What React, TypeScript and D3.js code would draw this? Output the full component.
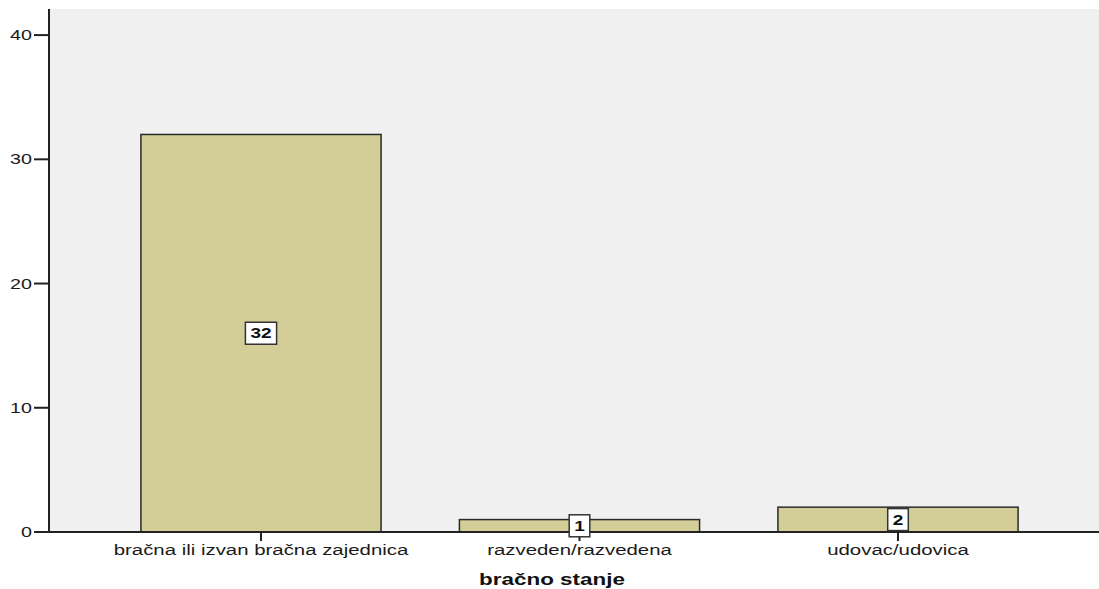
import React, { useEffect, useRef } from "react";
import * as d3 from "d3";

const categories = ["bračna ili izvan bračna zajednica", "razveden/razvedena", "udovac/udovica"];
const counts = [32, 1, 2];
const yTicks = [0, 10, 20, 30, 40];
const xTitle = "bračno stanje";

const W = 1099;
const H = 589;
const SX = 1.36; // horizontal stretch of the original rendering
const FONT = "Liberation Sans, Arial, sans-serif";

export default function App() {
  const ref = useRef<SVGSVGElement | null>(null);

  useEffect(() => {
    const svg = d3.select(ref.current);
    svg.selectAll("*").remove();

    const left = 49, right = 1099, top = 9, bottom = 532;
    const y = d3.scaleLinear().domain([0, 42.1]).range([bottom, top]);
    const x = d3
      .scaleBand<string>()
      .domain(categories)
      .range([101.75, 1057.25])
      .paddingInner(0.246)
      .paddingOuter(0.123);

    const addText = (
      px: number,
      py: number,
      str: string,
      size: number,
      anchor: string,
      bold = false,
      fill = "#1a1a1a"
    ) =>
      svg
        .append("text")
        .attr("transform", `translate(${px},${py}) scale(${SX},1)`)
        .attr("text-anchor", anchor)
        .attr("font-family", FONT)
        .attr("font-size", size)
        .attr("font-weight", bold ? "bold" : "normal")
        .attr("fill", fill)
        .text(str);

    svg.append("rect").attr("x", 0).attr("y", 0).attr("width", W).attr("height", H).attr("fill", "#ffffff");
    svg.append("rect").attr("x", left).attr("y", top).attr("width", right - left).attr("height", bottom - top).attr("fill", "#f0f0f0");

    // bars
    svg
      .selectAll("rect.bar")
      .data(counts)
      .enter()
      .append("rect")
      .attr("class", "bar")
      .attr("x", (_d, i) => x(categories[i])!)
      .attr("y", (d) => y(d))
      .attr("width", x.bandwidth())
      .attr("height", (d) => bottom - y(d))
      .attr("fill", "#d3ce98")
      .attr("stroke", "#2a2a2a")
      .attr("stroke-width", 1.5);

    // axes lines
    svg.append("line").attr("x1", left).attr("x2", left).attr("y1", top).attr("y2", bottom + 1).attr("stroke", "#222").attr("stroke-width", 2);
    svg.append("line").attr("x1", left).attr("x2", right).attr("y1", bottom).attr("y2", bottom).attr("stroke", "#222").attr("stroke-width", 2);

    // y ticks
    yTicks.forEach((t) => {
      svg.append("line").attr("x1", 34).attr("x2", left).attr("y1", y(t)).attr("y2", y(t)).attr("stroke", "#222").attr("stroke-width", 2);
      addText(32, y(t) + 5, String(t), 14.5, "end");
    });

    // x ticks and labels
    categories.forEach((c) => {
      const cx = x(c)! + x.bandwidth() / 2;
      svg.append("line").attr("x1", cx).attr("x2", cx).attr("y1", bottom).attr("y2", bottom + 9).attr("stroke", "#222").attr("stroke-width", 2);
      addText(cx, 555, c, 15, "middle");
    });

    // value labels
    counts.forEach((v, i) => {
      const cx = x(categories[i])! + x.bandwidth() / 2;
      const cy = y(v / 2);
      const g = svg.append("g");
      const rect = g.append("rect");
      const t = addText(cx, cy + 5, String(v), 14, "middle", true, "#111");
      g.node()!.appendChild(t.node()!);
      const bb = (t.node() as SVGTextElement).getBBox();
      const w = bb.width * SX + 10;
      rect
        .attr("x", cx - w / 2)
        .attr("y", cy - 11)
        .attr("width", w)
        .attr("height", 22)
        .attr("fill", "#ffffff")
        .attr("stroke", "#333")
        .attr("stroke-width", 1.5);
    });

    // axis title
    addText(552, 585, xTitle, 16.5, "middle", true, "#111");
  }, []);

  return (
    <svg
      ref={ref}
      width={W}
      height={H}
      style={{ position: "absolute", left: 0, top: 0, display: "block" }}
    />
  );
}
